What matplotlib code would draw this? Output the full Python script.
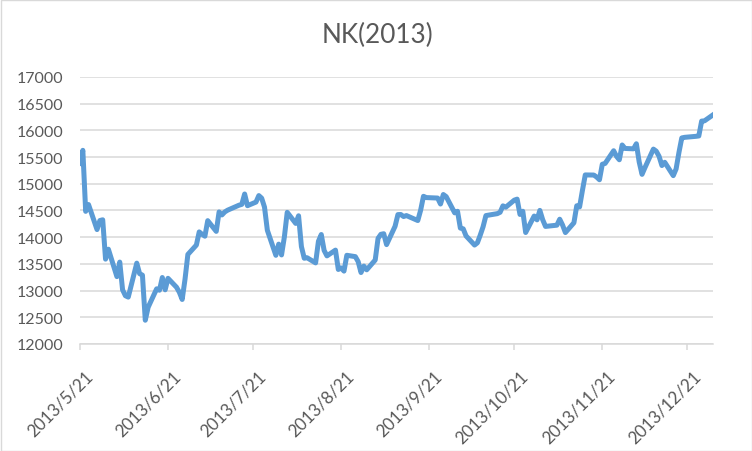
import numpy as np
import pandas as pd
import matplotlib
matplotlib.use("Agg")
import matplotlib.pyplot as plt
import matplotlib.dates as mdates
from matplotlib.transforms import ScaledTranslation
from matplotlib.patches import Rectangle

# trading days and closing values
dates = [
    "2013-05-21", "2013-05-22", "2013-05-23", "2013-05-24", "2013-05-27", "2013-05-28",
    "2013-05-29", "2013-05-30", "2013-05-31",
    "2013-06-03", "2013-06-04", "2013-06-05", "2013-06-06", "2013-06-07", "2013-06-10",
    "2013-06-11", "2013-06-12", "2013-06-13", "2013-06-14", "2013-06-17", "2013-06-18",
    "2013-06-19", "2013-06-20", "2013-06-21", "2013-06-24", "2013-06-25", "2013-06-26",
    "2013-06-27", "2013-06-28",
    "2013-07-01", "2013-07-02", "2013-07-03", "2013-07-04", "2013-07-05", "2013-07-08",
    "2013-07-09", "2013-07-10", "2013-07-11", "2013-07-12", "2013-07-16", "2013-07-17",
    "2013-07-18", "2013-07-19", "2013-07-22", "2013-07-23", "2013-07-24", "2013-07-25",
    "2013-07-26", "2013-07-29", "2013-07-30", "2013-07-31",
    "2013-08-01", "2013-08-02", "2013-08-05", "2013-08-06", "2013-08-07", "2013-08-08",
    "2013-08-09", "2013-08-12", "2013-08-13", "2013-08-14", "2013-08-15", "2013-08-16",
    "2013-08-19", "2013-08-20", "2013-08-21", "2013-08-22", "2013-08-23", "2013-08-26",
    "2013-08-27", "2013-08-28", "2013-08-29", "2013-08-30",
    "2013-09-02", "2013-09-03", "2013-09-04", "2013-09-05", "2013-09-06", "2013-09-09",
    "2013-09-10", "2013-09-11", "2013-09-12", "2013-09-13", "2013-09-17", "2013-09-18",
    "2013-09-19", "2013-09-20", "2013-09-24", "2013-09-25", "2013-09-26", "2013-09-27",
    "2013-09-30",
    "2013-10-01", "2013-10-02", "2013-10-03", "2013-10-04", "2013-10-07", "2013-10-08",
    "2013-10-09", "2013-10-10", "2013-10-11", "2013-10-15", "2013-10-16", "2013-10-17",
    "2013-10-18", "2013-10-21", "2013-10-22", "2013-10-23", "2013-10-24", "2013-10-25",
    "2013-10-28", "2013-10-29", "2013-10-30", "2013-10-31",
    "2013-11-01", "2013-11-05", "2013-11-06", "2013-11-07", "2013-11-08", "2013-11-11",
    "2013-11-12", "2013-11-13", "2013-11-14", "2013-11-15", "2013-11-18", "2013-11-19",
    "2013-11-20", "2013-11-21", "2013-11-22", "2013-11-25", "2013-11-26", "2013-11-27",
    "2013-11-28", "2013-11-29",
    "2013-12-02", "2013-12-03", "2013-12-04", "2013-12-05", "2013-12-06", "2013-12-09",
    "2013-12-10", "2013-12-11", "2013-12-12", "2013-12-13", "2013-12-16", "2013-12-17",
    "2013-12-18", "2013-12-19", "2013-12-20", "2013-12-24", "2013-12-25", "2013-12-26",
    "2013-12-27", "2013-12-30",
]
close = [
    15381, 15627, 14484, 14612, 14143, 14312, 14326, 13589, 13775,
    13262, 13534, 13015, 12904, 12878, 13514, 13318, 13289, 12445, 12687, 13033, 13007,
    13245, 13015, 13230, 13063, 12969, 12834, 13214, 13677,
    13853, 14099, 14055, 14019, 14310, 14109, 14473, 14417, 14473, 14506, 14599, 14615,
    14809, 14590, 14658, 14779, 14731, 14563, 14130, 13661, 13870, 13668,
    14006, 14466, 14258, 14401, 13825, 13606, 13615, 13519, 13924, 14050, 13753, 13650,
    13758, 13396, 13424, 13365, 13661, 13636, 13542, 13338, 13459, 13389,
    13573, 13978, 14054, 14065, 13861, 14205, 14423, 14425, 14387, 14405, 14312, 14505,
    14766, 14742, 14733, 14621, 14799, 14760, 14456,
    14485, 14170, 14157, 14024, 13853, 13895, 14038, 14195, 14405, 14441, 14467, 14587,
    14562, 14694, 14713, 14426, 14486, 14088, 14396, 14325, 14502, 14328,
    14202, 14225, 14337, 14228, 14087, 14270, 14589, 14567, 14876, 15166, 15164, 15127,
    15076, 15366, 15382, 15619, 15515, 15450, 15727, 15662,
    15655, 15750, 15408, 15177, 15300, 15650, 15611, 15515, 15342, 15403, 15153, 15278,
    15586, 15859, 15870, 15889, 15896, 16174, 16179, 16291,
]
tick_dates = ["2013-05-21", "2013-06-21", "2013-07-21", "2013-08-21",
              "2013-09-21", "2013-10-21", "2013-11-21", "2013-12-21"]
tick_labels = ["2013/5/21", "2013/6/21", "2013/7/21", "2013/8/21",
               "2013/9/21", "2013/10/21", "2013/11/21", "2013/12/21"]
y_ticks = [12000, 12500, 13000, 13500, 14000, 14500, 15000, 15500, 16000, 16500, 17000]

plt.rcParams['font.family'] = ['Lato', 'DejaVu Sans']
txt = '#595959'
grid = '#D9D9D9'

fig = plt.figure(figsize=(7.52, 4.52), dpi=100)
ax = fig.add_axes([80/752, 1-345/452, (713-80)/752, (345-78)/452])

x = pd.to_datetime(dates)
ax.plot(x, close, color='#5B9BD5', lw=3.6, solid_joinstyle='round', zorder=3)

ax.set_ylim(12000, 17000)
ax.set_yticks(y_ticks)
ax.set_xlim(pd.Timestamp(dates[0]), pd.Timestamp(dates[-1]))
ax.set_xticks(pd.to_datetime(tick_dates))
ax.set_xticklabels(tick_labels, rotation=45, ha='right', va='top', rotation_mode='anchor')

ax.grid(axis='y', color=grid, lw=1.1, zorder=0)
for s in ['top', 'right', 'left']:
    ax.spines[s].set_visible(False)
ax.spines['bottom'].set_color(grid)
ax.spines['bottom'].set_linewidth(1.1)
ax.tick_params(axis='y', length=0, pad=12, labelsize=11.5, labelcolor=txt)
ax.tick_params(axis='x', length=4, width=1.1, color=grid, direction='out',
               pad=13, labelsize=12.3, labelcolor=txt)
off = ScaledTranslation(5/100, 0, fig.dpi_scale_trans)
for lab in ax.get_xticklabels():
    lab.set_transform(lab.get_transform() + off)

fig.text(377/752, 1-43/452, 'NK(2013)', ha='center', va='baseline', fontsize=18.8, color=txt)

fig.patches.append(Rectangle((0.5/752, 0.5/452), 1-1/752, 1-1/452, transform=fig.transFigure,
                             fill=False, edgecolor=grid, lw=1))

fig.savefig('out.png', dpi=100)
